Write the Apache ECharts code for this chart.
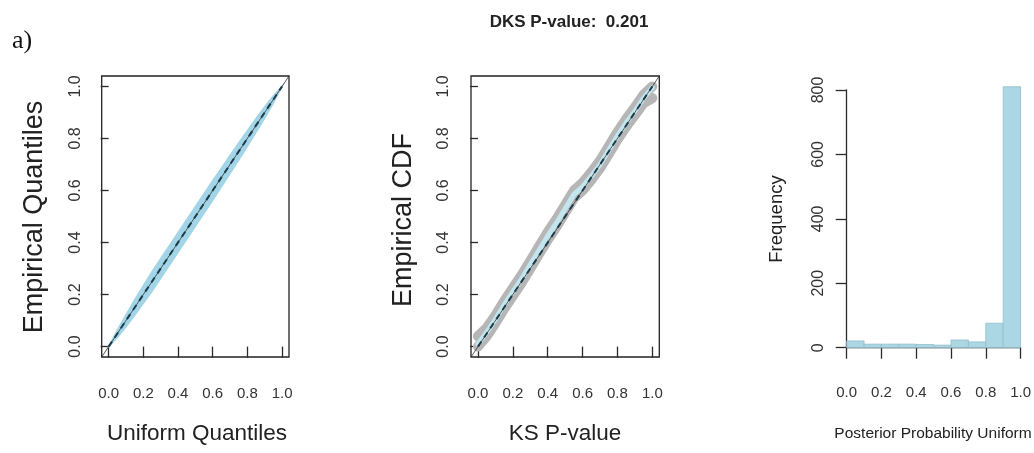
<!DOCTYPE html>
<html>
<head>
<meta charset="utf-8">
<script src="https://cdn.jsdelivr.net/npm/echarts@6/dist/echarts.min.js"></script>
<style>
html,body{margin:0;padding:0;background:#fff;}
#chart{width:1034px;height:453px;}
</style>
</head>
<body>
<div id="chart"></div>
<script>
// ---------- data ----------
const tickVals = [0, 0.2, 0.4, 0.6, 0.8, 1.0];
const histTicks = [0, 200, 400, 600, 800];

// Panel 1: QQ band (lightblue) around the diagonal
const bandX     = [0,0.05,0.1,0.15,0.2,0.25,0.3,0.35,0.4,0.45,0.5,0.55,0.6,0.65,0.7,0.75,0.8,0.85,0.9,0.95,1.0];
const bandLower = [0,0.035,0.076,0.120,0.166,0.212,0.262,0.312,0.362,0.412,0.462,0.512,0.562,0.614,0.665,0.717,0.770,0.823,0.878,0.936,1.0];
const bandUpper = [0,0.063,0.122,0.180,0.234,0.288,0.338,0.388,0.438,0.488,0.538,0.588,0.638,0.686,0.735,0.783,0.830,0.877,0.922,0.964,1.0];
const qqX = [0, 1];
const qqY = [0, 1];

// Panel 2: empirical CDF of KS p-values (grey replicates + lightblue centre)
const ksX       = [0,0.05,0.1,0.15,0.2,0.25,0.3,0.35,0.4,0.45,0.5,0.55,0.6,0.65,0.7,0.75,0.8,0.85,0.9,0.95,1.0];
const ecdfMid   = [0.010,0.055,0.105,0.160,0.210,0.260,0.315,0.370,0.425,0.475,0.530,0.585,0.615,0.655,0.700,0.755,0.810,0.860,0.905,0.955,0.995];
const ecdfUpper = [0.040,0.072,0.120,0.175,0.225,0.275,0.330,0.385,0.440,0.490,0.545,0.600,0.630,0.670,0.715,0.770,0.825,0.875,0.920,0.968,1.000];
const ecdfLower = [0.000,0.040,0.090,0.145,0.195,0.245,0.300,0.355,0.410,0.460,0.515,0.570,0.600,0.640,0.685,0.740,0.795,0.845,0.890,0.935,0.955];

// Panel 3: histogram of posterior probability uniform
const binEdges = [0,0.1,0.2,0.3,0.4,0.5,0.6,0.7,0.8,0.9,1.0];
const binCounts = [21,11,11,11,10,8,24,18,76,810];

const axisMin = -0.04, axisMax = 1.04;

// ---------- styling ----------
const FONT = "'Liberation Sans', Arial, Helvetica, sans-serif";
const axisCol = '#2a2a2a';
const labelCol = '#333';
const fmt1 = v => Number(v).toFixed(1);

function boxAxisX(gi){
  return {
    gridIndex: gi, type:'value', min: axisMin, max: axisMax,
    axisLine:{show:false}, splitLine:{show:false},
    axisTick:{show:true, customValues: tickVals, length:11, lineStyle:{color:axisCol,width:1.3}},
    axisLabel:{show:true, customValues: tickVals, formatter: fmt1, margin:29,
      fontFamily:FONT, fontSize:15, color:labelCol}
  };
}
function boxAxisY(gi, margin){
  return {
    gridIndex: gi, type:'value', min: axisMin, max: axisMax,
    axisLine:{show:false}, splitLine:{show:false},
    axisTick:{show:true, customValues: tickVals, length:8, lineStyle:{color:axisCol,width:1.3}},
    axisLabel:{show:true, customValues: tickVals, formatter: fmt1, margin: margin, rotate:90,
      fontFamily:FONT, fontSize:16, color:labelCol}
  };
}

const diagLine = (xi) => ({
  type:'line', xAxisIndex:xi, yAxisIndex:xi, symbol:'none', silent:true, z:5,
  data:[[axisMin,axisMin],[axisMax,axisMax]],
  lineStyle:{color:'#333', width:0.8}
});
const dashLine = (xi) => ({
  type:'line', xAxisIndex:xi, yAxisIndex:xi, symbol:'none', silent:true, z:6,
  data: qqX.map((x,i)=>[x, qqY[i]]),
  lineStyle:{color:'#1d3a48', width:2, type:[6,5]}
});

const option = {
  animation:false,
  backgroundColor:'#fff',
  title:{
    text:'DKS P-value:  0.201', left:564, top:9, textAlign:'center',
    textStyle:{fontFamily:FONT, fontSize:17, fontWeight:'bold', color:'#222'}
  },
  grid:[
    {left:101.7, top:76, width:187.3, height:281, show:true, borderColor:'#222', borderWidth:1.3, backgroundColor:'transparent'},
    {left:471,   top:76, width:188.3, height:281, show:true, borderColor:'#222', borderWidth:1.3, backgroundColor:'transparent'},
    {left:846.7, top:90, width:174.3, height:257.7}
  ],
  xAxis:[
    boxAxisX(0),
    boxAxisX(1),
    {gridIndex:2, type:'value', min:0, max:1, interval:0.2, offset:10,
      axisLine:{show:true, lineStyle:{color:axisCol,width:1.3}}, splitLine:{show:false},
      axisTick:{show:true, length:11, lineStyle:{color:axisCol,width:1.3}},
      axisLabel:{formatter: fmt1, margin:28, showMinLabel:true, showMaxLabel:true,
        fontFamily:FONT, fontSize:15, color:labelCol}}
  ],
  yAxis:[
    boxAxisY(0, 18),
    boxAxisY(1, 19),
    {gridIndex:2, type:'value', min:0, max:800, interval:200, offset:6,
      axisLine:{show:true, lineStyle:{color:axisCol,width:1.3}}, splitLine:{show:false},
      axisTick:{show:true, length:11, lineStyle:{color:axisCol,width:1.3}},
      axisLabel:{rotate:90, margin:14, showMinLabel:true, showMaxLabel:true,
        fontFamily:FONT, fontSize:16, color:labelCol}}
  ],
  series:[
    // Panel 1 band (polygon between lower and upper envelopes)
    {type:'custom', xAxisIndex:0, yAxisIndex:0, silent:true, z:2,
      data: bandX.map((x,i)=>[x, bandLower[i], bandUpper[i]]),
      renderItem:(params, api)=>{
        if (params.dataIndex !== 0) return null;
        const up = bandX.map((x,i)=>api.coord([x, bandUpper[i]]));
        const lo = bandX.map((x,i)=>api.coord([x, bandLower[i]])).reverse();
        return {type:'polygon', shape:{points: up.concat(lo)},
          style:{fill:'#a2d5e7', stroke:'#a2d5e7', lineWidth:1.5}};
      }},
    diagLine(0),
    dashLine(0),
    // Panel 2 ECDFs
    {type:'line', xAxisIndex:1, yAxisIndex:1, symbol:'none', silent:true,
      data: ksX.map((x,i)=>[x, ecdfUpper[i]]), lineStyle:{color:'#b6b6b6', width:10, cap:'round', join:'round'}},
    {type:'line', xAxisIndex:1, yAxisIndex:1, symbol:'none', silent:true,
      data: ksX.map((x,i)=>[x, ecdfLower[i]]), lineStyle:{color:'#b6b6b6', width:10, cap:'round', join:'round'}},
    {type:'line', xAxisIndex:1, yAxisIndex:1, symbol:'none', silent:true,
      data: ksX.map((x,i)=>[x, ecdfMid[i]]), lineStyle:{color:'#c2e5ee', width:5, cap:'round', join:'round'}},
    diagLine(1),
    dashLine(1),
    // Panel 3 histogram
    {type:'custom', xAxisIndex:2, yAxisIndex:2, silent:true, clip:false,
      data: binCounts.map((c,i)=>[binEdges[i], binEdges[i+1], c]),
      renderItem:(params, api)=>{
        const p0 = api.coord([api.value(0), 0]);
        const p1 = api.coord([api.value(1), api.value(2)]);
        return {type:'rect', shape:{x:p0[0], y:p1[1], width:p1[0]-p0[0], height:p0[1]-p1[1]},
          style:{fill:'#abd6e4', stroke:'#93bccb', lineWidth:0.8}};
      }}
  ],
  graphic:[
    {type:'text', left:12, top:28, style:{text:'a)', font:"26px 'Liberation Serif', 'Times New Roman', serif", fill:'#111'}},
    {type:'text', x:35, y:217, rotation:Math.PI/2, style:{text:'Empirical Quantiles', fontFamily:FONT, fontSize:27, fill:'#222', align:'center', verticalAlign:'middle'}},
    {type:'text', x:197, y:434, style:{text:'Uniform Quantiles', fontFamily:FONT, fontSize:22.5, fill:'#222', align:'center', verticalAlign:'middle'}},
    {type:'text', x:404, y:220, rotation:Math.PI/2, style:{text:'Empirical CDF', fontFamily:FONT, fontSize:27, fill:'#222', align:'center', verticalAlign:'middle'}},
    {type:'text', x:565, y:434, style:{text:'KS P-value', fontFamily:FONT, fontSize:22.5, fill:'#222', align:'center', verticalAlign:'middle'}},
    {type:'text', x:777, y:219, rotation:Math.PI/2, style:{text:'Frequency', fontFamily:FONT, fontSize:18.5, fill:'#222', align:'center', verticalAlign:'middle'}},
    {type:'text', x:933, y:434, style:{text:'Posterior Probability Uniform', fontFamily:FONT, fontSize:15.5, fill:'#222', align:'center', verticalAlign:'middle'}}
  ]
};

const chart = echarts.init(document.getElementById('chart'), null, {renderer:'canvas'});
chart.setOption(option);
</script>
</body>
</html>
